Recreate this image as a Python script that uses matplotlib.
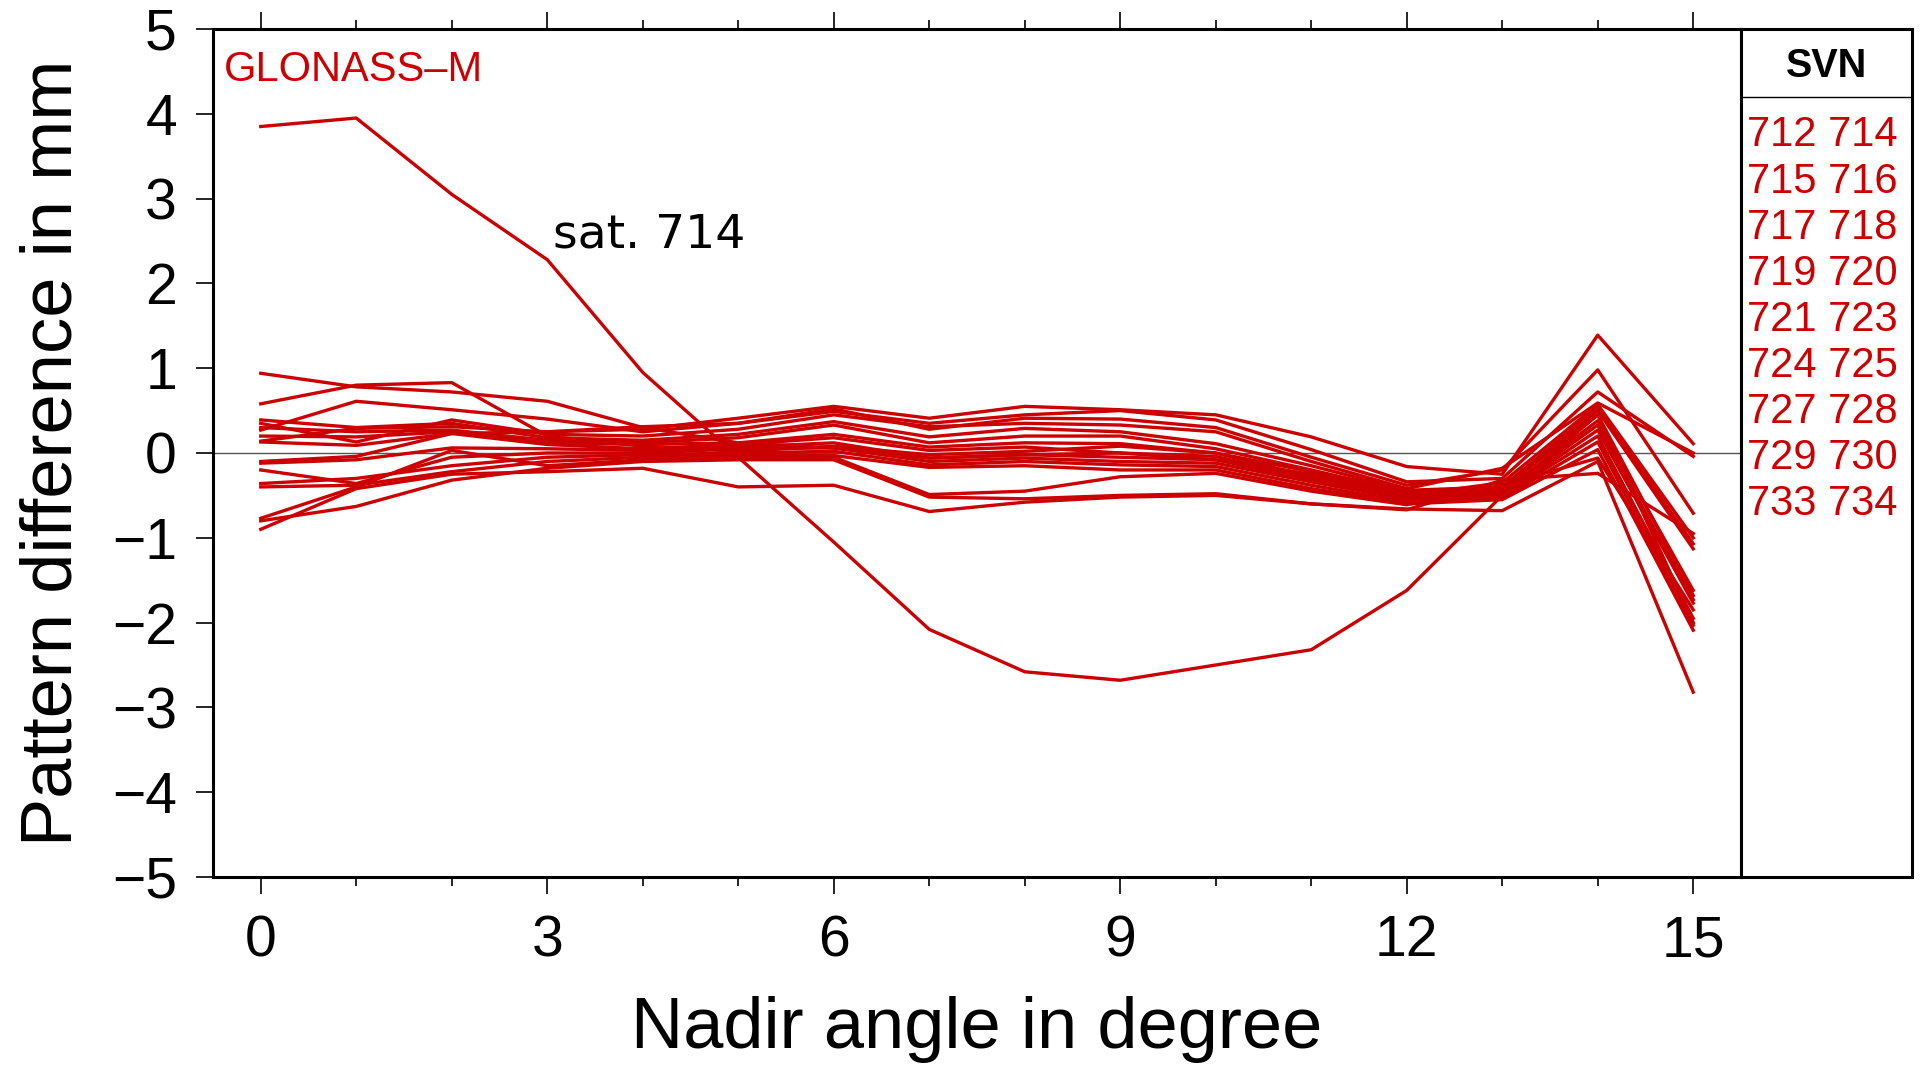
import matplotlib

matplotlib.use("Agg")
import matplotlib.pyplot as plt
from matplotlib.ticker import MultipleLocator

RED = "#cc0000"

nadir = list(range(16))

# pattern differences in mm, one list per satellite
sat714 = [3.85, 3.95, 3.05, 2.28, 0.95, -0.05, -1.05, -2.08, -2.58, -2.68, -2.50, -2.32, -1.62, -0.50, 0.45, -2.00]

others = [
	[0.94, 0.78, 0.72, 0.61, 0.30, 0.12, 0.06, -0.06, -0.02, 0.00, -0.08, -0.25, -0.48, -0.42, 0.45, -1.68],
	[0.58, 0.80, 0.83, 0.20, 0.08, 0.02, 0.08, -0.02, 0.02, 0.08, 0.00, -0.22, -0.50, -0.35, 0.57, -1.00],
	[0.27, 0.61, 0.51, 0.40, 0.25, 0.35, 0.52, 0.28, 0.41, 0.40, 0.30, -0.05, -0.38, -0.20, 0.98, -0.71],
	[0.14, 0.29, 0.31, 0.25, 0.28, 0.41, 0.55, 0.41, 0.55, 0.51, 0.45, 0.19, -0.16, -0.25, 1.39, 0.11],
	[-0.10, -0.04, 0.23, 0.25, 0.31, 0.35, 0.49, 0.35, 0.45, 0.50, 0.39, 0.04, -0.34, -0.30, 0.72, -0.04],
	[0.35, 0.13, 0.39, 0.22, 0.20, 0.28, 0.45, 0.31, 0.35, 0.33, 0.25, -0.10, -0.42, -0.18, 0.59, 0.00],
	[0.39, 0.30, 0.35, 0.18, 0.15, 0.22, 0.37, 0.19, 0.29, 0.25, 0.11, -0.15, -0.44, -0.40, 0.53, -1.07],
	[0.30, 0.25, 0.27, 0.15, 0.12, 0.18, 0.33, 0.12, 0.20, 0.20, 0.05, -0.20, -0.46, -0.44, 0.50, -1.13],
	[0.20, 0.19, 0.25, 0.12, 0.10, 0.12, 0.22, 0.07, 0.12, 0.11, 0.00, -0.28, -0.50, -0.46, 0.38, -1.62],
	[0.13, 0.09, 0.23, 0.10, 0.05, 0.10, 0.18, 0.03, 0.07, 0.00, -0.04, -0.30, -0.51, -0.48, 0.33, -1.73],
	[-0.12, -0.08, 0.06, 0.05, 0.03, 0.07, 0.12, -0.06, -0.02, -0.05, -0.08, -0.32, -0.53, -0.50, 0.27, -1.77],
	[-0.20, -0.36, -0.05, 0.00, 0.00, 0.05, 0.06, -0.10, -0.06, -0.10, -0.12, -0.34, -0.55, -0.51, 0.20, -1.95],
	[-0.36, -0.30, -0.15, -0.05, -0.02, 0.00, 0.02, -0.14, -0.10, -0.14, -0.16, -0.38, -0.58, -0.53, 0.13, -2.03],
	[-0.40, -0.38, -0.22, -0.10, -0.05, -0.03, -0.03, -0.17, -0.15, -0.20, -0.20, -0.42, -0.60, -0.55, 0.04, -2.09],
	[-0.77, -0.40, 0.03, -0.15, -0.08, -0.05, -0.05, -0.49, -0.45, -0.28, -0.24, -0.45, -0.61, -0.38, -0.06, -1.85],
	[-0.80, -0.63, -0.32, -0.18, -0.10, -0.08, -0.08, -0.52, -0.54, -0.50, -0.48, -0.60, -0.66, -0.68, -0.10, -2.82],
	[-0.90, -0.42, -0.25, -0.22, -0.18, -0.40, -0.38, -0.69, -0.58, -0.52, -0.50, -0.60, -0.67, -0.32, -0.24, -0.95],
]

svn = ["712", "714", "715", "716", "717", "718", "719", "720", "721",
	"723", "724", "725", "727", "728", "729", "730", "733", "734"]

plt.rcParams["font.family"] = ["Liberation Sans", "DejaVu Sans"]

W, H = 1921, 1065
fig = plt.figure(figsize=(W / 100, H / 100), dpi=100)

left, right, top, bottom = 213, 1741, 29, 877
ax = fig.add_axes([left / W, 1 - bottom / H, (right - left) / W, (bottom - top) / H])
panel = fig.add_axes([right / W, 1 - bottom / H, (1912 - right) / W, (bottom - top) / H])

ax.axhline(0, color="#555555", lw=1.0, zorder=1)
for vals in others:
	ax.plot(nadir, vals, color=RED, lw=2.4, zorder=2)
ax.plot(nadir, sat714, color=RED, lw=2.4, zorder=2)

ax.set_xlim(-0.5, 15.5)
ax.set_ylim(-5, 5)
ax.xaxis.set_major_locator(MultipleLocator(3))
ax.xaxis.set_minor_locator(MultipleLocator(1))
ax.yaxis.set_major_locator(MultipleLocator(1))
ax.tick_params(axis="x", which="both", direction="out", top=True, bottom=True,
	labeltop=False, width=1.2)
ax.tick_params(axis="x", which="major", length=12, pad=15, labelsize=41)
ax.tick_params(axis="x", which="minor", length=6.5)
ax.tick_params(axis="y", which="major", direction="out", length=12, width=1.2,
	pad=14, labelsize=41, right=False)
for sp in ax.spines.values():
	sp.set_linewidth(2.2)

ax.set_xlabel("Nadir angle in degree", fontsize=52, labelpad=20)
ax.set_ylabel("Pattern difference in mm", fontsize=52, labelpad=18)

ax.text(0.007, 0.975, "GLONASS\u2013M", transform=ax.transAxes, color=RED,
	fontsize=30, ha="left", va="top")
ax.text(3.06, 2.57, "sat. 714", family="DejaVu Sans", fontsize=34,
	ha="left", va="center", color="black")

# legend box with the SVN numbers
panel.set_xticks([])
panel.set_yticks([])
for sp in panel.spines.values():
	sp.set_linewidth(2.2)
panel.set_xlim(0, 1)
panel.set_ylim(0, 1)
panel.axhline(0.92, color="black", lw=1.0)
panel.text(0.5, 0.956, "SVN", fontsize=28.5, fontweight="bold", ha="center", va="center")
row_h = 46.1 / (bottom - top)
first = (bottom - 135.5) / (bottom - top)
for i in range(0, len(svn), 2):
	panel.text(0.035, first - (i // 2) * row_h, f"{svn[i]} {svn[i + 1]}",
		fontsize=30, color=RED, ha="left", va="center")

fig.savefig("out.png", dpi=100)
